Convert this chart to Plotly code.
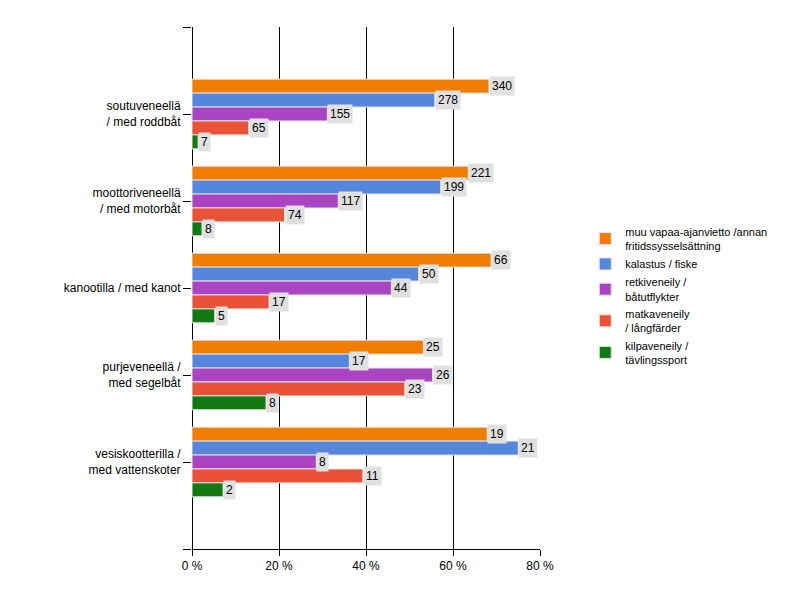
import plotly.graph_objects as go

categories = ["soutuveneellä<br>/ med roddbåt", "moottoriveneellä<br>/ med motorbåt",
              "kanootilla / med kanot", "purjeveneellä /<br>med segelbåt",
              "vesiskootterilla /<br>med vattenskoter"]
respondents = [498, 348, 96, 47, 28]

series_names = ["muu vapaa-ajanvietto /annan<br>fritidssysselsättning",
                "kalastus / fiske",
                "retkiveneily /<br>båtutflykter",
                "matkaveneily<br>/ långfärder",
                "kilpaveneily /<br>tävlingssport"]
muu = [340, 221, 66, 25, 19]
kalastus = [278, 199, 50, 17, 21]
retki = [155, 117, 44, 26, 8]
matka = [65, 74, 17, 23, 11]
kilpa = [7, 8, 5, 8, 2]
series_counts = [muu, kalastus, retki, matka, kilpa]
colors = ["#ee7d00", "#5686dc", "#a944c2", "#ea5238", "#137a13"]

x_ticks = [0, 20, 40, 60, 80]
x_ticktext = ["0 %", "20 %", "40 %", "60 %", "80 %"]

pos = list(range(len(categories)))
bargap = 0.2
n_series = len(series_counts)
bar_w = (1 - bargap) / n_series

fig = go.Figure()
annotations = []
for i, (name, counts, col) in enumerate(zip(series_names, series_counts, colors)):
    pct = [c / n * 100 for c, n in zip(counts, respondents)]
    fig.add_trace(go.Bar(
        y=pos, x=pct, orientation="h", name=name,
        marker=dict(color=col, line=dict(color="#e4e4e4", width=1)),
        hoverinfo="skip",
    ))
    for p, v, c in zip(pos, pct, counts):
        annotations.append(dict(
            x=v, y=p + (i - (n_series - 1) / 2) * bar_w, xref="x", yref="y",
            text=str(c), showarrow=False, xanchor="left", yanchor="middle",
            bgcolor="#e0e0e0", borderpad=2,
            font=dict(family="Liberation Sans, Arial, sans-serif", size=12, color="#000000"),
        ))

fig.update_layout(
    width=800, height=600,
    paper_bgcolor="white", plot_bgcolor="white",
    margin=dict(l=184, r=268, t=19, b=59),
    barmode="group", bargap=bargap, bargroupgap=0,
    font=dict(family="Liberation Sans, Arial, sans-serif", size=12, color="#000000"),
    showlegend=True,
    legend=dict(x=1.13, y=0.485, xanchor="left", yanchor="middle",
                font=dict(size=11), traceorder="normal",
                tracegroupgap=9, itemwidth=30, bgcolor="rgba(0,0,0,0)"),
    annotations=annotations,
)
fig.update_xaxes(
    range=[0, 80], tickvals=x_ticks, ticktext=x_ticktext,
    showgrid=True, gridcolor="#000000", gridwidth=1,
    showline=True, linecolor="#000000", linewidth=1,
    ticks="outside", ticklen=6, tickcolor="#000000",
    zeroline=True, zerolinecolor="#000000", zerolinewidth=1,
    tickfont=dict(size=12),
)
fig.update_yaxes(
    range=[len(categories), -1],
    tickvals=[-1] + pos + [len(categories)],
    ticktext=[""] + categories + [""],
    showgrid=False, showline=False, zeroline=False,
    ticks="outside", ticklen=8, tickcolor="#000000",
    tickfont=dict(size=12),
)

fig.write_html("out.html")
